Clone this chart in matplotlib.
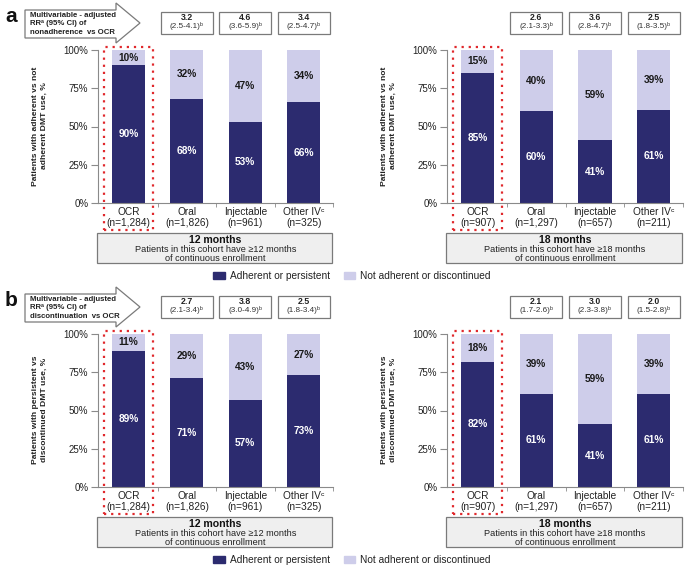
import matplotlib
matplotlib.use("Agg")
import matplotlib.pyplot as plt
from matplotlib.patches import Rectangle, Polygon, Patch
from matplotlib.transforms import blended_transform_factory
from matplotlib import font_manager

plt.rcParams['font.family'] = ['Liberation Sans', 'DejaVu Sans']

# ---------------- data ----------------
categories = ["OCR", "Oral", "Injectable", "Other IV\u1d9c"]
n_12 = ["n=1,284", "n=1,826", "n=961", "n=325"]
n_18 = ["n=907", "n=1,297", "n=657", "n=211"]

a12_adherent = [90, 68, 53, 66]
a12_not = [10, 32, 47, 34]
a18_adherent = [85, 60, 41, 61]
a18_not = [15, 40, 59, 39]

b12_persistent = [89, 71, 57, 73]
b12_disc = [11, 29, 43, 27]
b18_persistent = [82, 61, 41, 61]
b18_disc = [18, 39, 59, 39]

a12_rr = ["3.2", "4.6", "3.4"]
a12_ci = ["(2.5-4.1)\u1d47", "(3.6-5.9)\u1d47", "(2.5-4.7)\u1d47"]
a18_rr = ["2.6", "3.6", "2.5"]
a18_ci = ["(2.1-3.3)\u1d47", "(2.8-4.7)\u1d47", "(1.8-3.5)\u1d47"]
b12_rr = ["2.7", "3.8", "2.5"]
b12_ci = ["(2.1-3.4)\u1d47", "(3.0-4.9)\u1d47", "(1.8-3.4)\u1d47"]
b18_rr = ["2.1", "3.0", "2.0"]
b18_ci = ["(1.7-2.6)\u1d47", "(2.3-3.8)\u1d47", "(1.5-2.8)\u1d47"]

yticks = [0, 25, 50, 75, 100]
ytick_labels = ["0%", "25%", "50%", "75%", "100%"]

DARK = "#2c2b6f"
LIGHT = "#cecdea"
RED = "#e0282c"
GREY = "#8a8a8a"

names = {f.name for f in font_manager.fontManager.ttflist}
NARROW = ['Liberation Sans Narrow', 'Liberation Sans', 'DejaVu Sans'] if 'Liberation Sans Narrow' in names else ['Liberation Sans', 'DejaVu Sans']
YLAB_SIZE = 7.3 if 'Liberation Sans Narrow' in names else 6.1

W, H = 685, 566
fig = plt.figure(figsize=(W / 100, H / 100), dpi=100)


def fy(y):
    return 1 - y / H


def fx(x):
    return x / W


def make_axes(x0, x1, dy):
    y0, y1 = 50 + dy, 203 + dy
    return fig.add_axes([fx(x0), fy(y1), fx(x1 - x0), (y1 - y0) / H])


def draw_panel(x0, x1, dy, bottom_vals, top_vals, ns, rr, ci, months, ylabel, ylabel_x):
    ax = make_axes(x0, x1, dy)
    xs = list(range(len(categories)))
    ax.bar(xs, bottom_vals, width=0.565, color=DARK, zorder=2)
    ax.bar(xs, top_vals, bottom=bottom_vals, width=0.565, color=LIGHT, zorder=2)
    for x, b, t in zip(xs, bottom_vals, top_vals):
        ax.text(x, b / 2, f"{b}%", ha="center", va="center", color="white",
                fontsize=7.3, fontweight="bold", zorder=3)
        ax.text(x, b + t / 2, f"{t}%", ha="center", va="center", color="#1a1a1a",
                fontsize=7.3, fontweight="bold", zorder=3)
    ax.set_xlim(-0.52, 3.47)
    ax.set_ylim(0, 100)
    ax.set_yticks(yticks)
    ax.set_yticklabels(ytick_labels, fontsize=7, color="#222222")
    ax.set_xticks(xs)
    ax.set_xticklabels([f"{c}\n({n})" for c, n in zip(categories, ns)], fontsize=7.3,
                       color="#222222", linespacing=1.05)
    ax.tick_params(axis="x", length=0, pad=3)
    ax.set_xticks([0.5, 1.5, 2.5, 3.5], minor=True)
    ax.tick_params(axis="x", which="minor", length=3, color=GREY, direction="out")
    ax.tick_params(axis="y", length=5, color=GREY, pad=2)
    for s in ["top", "right"]:
        ax.spines[s].set_visible(False)
    ax.spines["left"].set_color(GREY)
    ax.spines["bottom"].set_color(GREY)
    ax.set_facecolor("none")

    # dotted red highlight around OCR
    yscale = 100 / 153.0
    ax.add_patch(Rectangle((-0.42, -27 * yscale), 0.84, 100 + 30 * yscale, fill=False,
                           edgecolor=RED, linestyle=(0, (1, 2.2)), linewidth=1.6,
                           clip_on=False, zorder=4))

    # RR boxes
    tr = blended_transform_factory(ax.transData, fig.transFigure)
    for i, (r, c) in enumerate(zip(rr, ci), start=1):
        ax.add_patch(Rectangle((i - 0.445, fy(34 + dy)), 0.89, (34 - 12) / H, transform=tr,
                               facecolor="white", edgecolor="#7a7a7a", linewidth=0.9,
                               clip_on=False))
        ax.text(i, fy(17.5 + dy), r, transform=tr, ha="center", va="center", fontsize=6.3,
                fontweight="bold", color="#222222")
        ax.text(i, fy(26.5 + dy), c, transform=tr, ha="center", va="center", fontsize=5.9,
                color="#333333")

    # months box
    tr2 = blended_transform_factory(ax.transAxes, fig.transFigure)
    ax.add_patch(Rectangle((-0.005, fy(263 + dy)), 1.0, 30 / H, transform=tr2,
                           facecolor="#efefef", edgecolor="#7a7a7a", linewidth=0.9,
                           clip_on=False))
    ax.text(0.5, fy(240 + dy), f"{months} months", transform=tr2, ha="center", va="center",
            fontsize=7.6, fontweight="bold", color="#111111")
    ax.text(0.5, fy(249.8 + dy), f"Patients in this cohort have \u2265{months} months",
            transform=tr2, ha="center", va="center", fontsize=6.6, color="#222222")
    ax.text(0.5, fy(258.6 + dy), "of continuous enrollment", transform=tr2, ha="center",
            va="center", fontsize=6.6, color="#222222")

    fig.text(fx(ylabel_x), fy(126 + dy), ylabel, rotation=90, ha="center", va="center",
             multialignment="center", fontsize=YLAB_SIZE, fontweight="bold", family=NARROW,
             color="#222222", linespacing=1.3)
    return ax


def draw_arrow(dy, lines, letter):
    pts = [(25, 10), (116, 10), (116, 3), (140, 23), (116, 43), (116, 38), (25, 38)]
    poly = Polygon([(fx(x), fy(y + dy)) for x, y in pts], closed=True, transform=fig.transFigure,
                   facecolor="white", edgecolor="#7a7a7a", linewidth=0.9)
    fig.patches.append(poly)
    for i, t in enumerate(lines):
        fig.text(fx(30), fy(15.3 + dy + i * 8.6), t, ha="left", va="center", fontsize=5.6,
                 fontweight="bold", color="#222222")
    fig.text(fx(5), fy(16 + dy), letter, ha="left", va="center", fontsize=15,
             fontweight="bold", color="#111111")


def draw_legend(dy):
    handles = [Patch(facecolor=DARK, edgecolor=DARK), Patch(facecolor=LIGHT, edgecolor=LIGHT)]
    fig.legend(handles, ["Adherent or persistent", "Not adherent or discontinued"],
               loc="center", bbox_to_anchor=(fx(352), fy(276 + dy)), ncol=2, frameon=False,
               fontsize=7.3, handlelength=1.1, handleheight=0.8, handletextpad=0.5,
               columnspacing=1.4, labelcolor="#222222")


ylabel_a = "Patients with adherent vs not\nadherent DMT use, %"
ylabel_b = "Patients with persistent vs\ndiscontinued DMT use, %"

# panel a
draw_panel(98, 333, 0, a12_adherent, a12_not, n_12, a12_rr, a12_ci, 12, ylabel_a, 40)
draw_panel(447, 683, 0, a18_adherent, a18_not, n_18, a18_rr, a18_ci, 18, ylabel_a, 389)
draw_arrow(0, ["Multivariable - adjusted", "RR\u1d43 (95% CI) of", "nonadherence  vs OCR"], "a")
draw_legend(0)

# panel b
D = 284
draw_panel(98, 333, D, b12_persistent, b12_disc, n_12, b12_rr, b12_ci, 12, ylabel_b, 40)
draw_panel(447, 683, D, b18_persistent, b18_disc, n_18, b18_rr, b18_ci, 18, ylabel_b, 389)
draw_arrow(D, ["Multivariable - adjusted", "RR\u1d43 (95% CI) of", "discontinuation  vs OCR"], "b")
draw_legend(D)

fig.savefig("out.png", dpi=100, facecolor="white")
